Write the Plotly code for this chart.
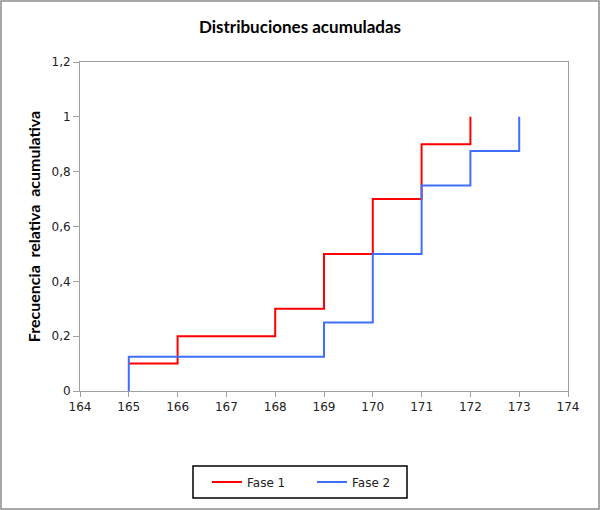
import plotly.graph_objects as go

fase1_x = [165, 166, 168, 169, 170, 171, 172]
fase1_y = [0.1, 0.2, 0.3, 0.5, 0.7, 0.9, 1.0]
fase2_x = [165, 165, 169, 170, 171, 172, 173]
fase2_y = [0, 0.125, 0.25, 0.5, 0.75, 0.875, 1.0]
x_ticks = list(range(164, 175))
y_ticks = [0, 0.2, 0.4, 0.6, 0.8, 1.0, 1.2]
y_labels = ["0", "0,2", "0,4", "0,6", "0,8", "1", "1,2"]

fig = go.Figure()
fig.add_trace(go.Scatter(x=fase1_x, y=fase1_y, mode="lines", line_shape="hv",
                         line=dict(color="#FF0000", width=2), name="Fase 1"))
fig.add_trace(go.Scatter(x=fase2_x, y=fase2_y, mode="lines", line_shape="hv",
                         line=dict(color="#3F6FFF", width=2), name="Fase 2"))

L, R, T, B = 80, 32, 62, 119
W, H = 600, 510
pw, ph = W - L - R, H - T - B

def px(x):
    return (x - L) / pw

def py(y):
    return (H - B - y) / ph

fig.update_layout(
    width=W, height=H,
    margin=dict(l=L, r=R, t=T, b=B),
    paper_bgcolor="white", plot_bgcolor="white",
    title=dict(text="<b>Distribuciones acumuladas</b>", x=0.5, xanchor="center",
               y=1 - 27 / H, yanchor="middle",
               font=dict(family="Lato", size=17, color="black")),
    font=dict(family="DejaVu Sans", size=11, color="#222"),
    xaxis=dict(range=[164, 174], tickvals=x_ticks, ticktext=[str(v) for v in x_ticks],
               showgrid=False, zeroline=False, showline=True, linecolor="#A0A0A0",
               linewidth=1, mirror=True, ticks="outside", ticklen=5, tickcolor="#A0A0A0",
               tickfont=dict(family="DejaVu Sans", size=12, color="#222")),
    yaxis=dict(range=[0, 1.2], tickvals=y_ticks, ticktext=y_labels,
               showgrid=False, zeroline=False, showline=True, linecolor="#A0A0A0",
               linewidth=1, mirror=True, ticks="outside", ticklen=6, tickcolor="#A0A0A0",
               tickfont=dict(family="DejaVu Sans", size=12, color="#222"),
               title=dict(text="<b>Frecuencia  relativa  acumulativa</b>",
                          font=dict(family="Lato", size=16, color="black"), standoff=6)),
    legend=dict(orientation="h", x=px(207), xanchor="left",
                y=py(482), yanchor="middle", entrywidth=60,
                borderwidth=0, bgcolor="rgba(0,0,0,0)",
                font=dict(family="DejaVu Sans", size=12, color="#222")),
    showlegend=True,
)

fig.add_shape(type="rect", xref="paper", yref="paper",
              x0=px(193), x1=px(407), y0=py(498), y1=py(466),
              line=dict(color="black", width=1.5), fillcolor="rgba(0,0,0,0)", layer="below")

fig.add_shape(type="rect", xref="paper", yref="paper",
              x0=px(1), x1=px(W - 1), y0=py(H - 1), y1=py(1),
              line=dict(color="#8C8C8C", width=1.5), fillcolor="rgba(0,0,0,0)", layer="below")

fig.write_html("out.html", config={"displayModeBar": False},
               post_script="document.body.style.margin='0';document.body.style.overflow='hidden';")
